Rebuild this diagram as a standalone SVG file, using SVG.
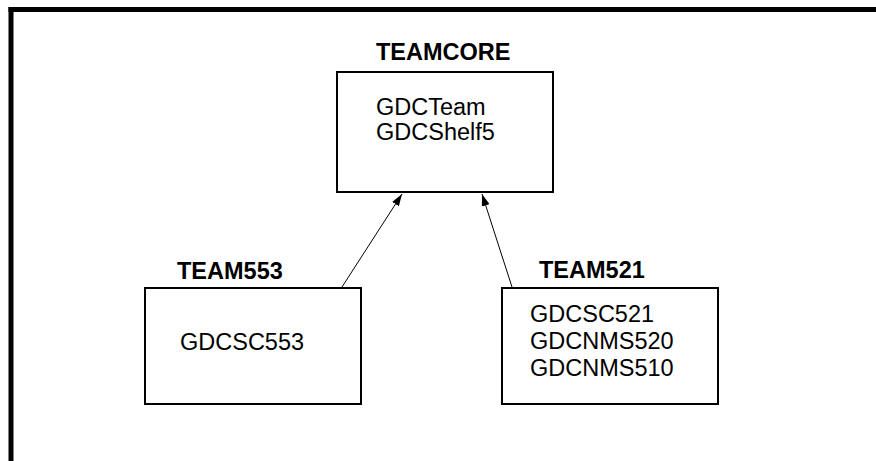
<svg xmlns="http://www.w3.org/2000/svg" width="876" height="461" viewBox="0 0 876 461">
<style>
.box{fill:#fff;stroke:#000;stroke-width:2}
.t{font-family:"Liberation Sans",Arial,sans-serif;font-size:23.5px;fill:#000}
.b{font-family:"Liberation Sans",Arial,sans-serif;font-size:23.5px;font-weight:bold;fill:#000}
.c{stroke:#000;stroke-width:1;fill:none}
</style>
<defs>
<marker id="ah" viewBox="0 0 12 8" refX="12" refY="4" markerWidth="12" markerHeight="8" markerUnits="userSpaceOnUse" orient="auto">
<path d="M0,0 L12,4 L0,8 Z" fill="#000"/>
</marker>
</defs>
<rect width="876" height="461" fill="#fff"/>
<g id="frame">
<rect x="8.5" y="7" width="867.5" height="5" fill="#000"/>
<rect x="8.5" y="7" width="5" height="454" fill="#000"/>
</g>
<g id="connectors">
<line class="c" x1="342" y1="287" x2="402" y2="194" marker-end="url(#ah)"/>
<line class="c" x1="512" y1="287" x2="482" y2="194" marker-end="url(#ah)"/>
</g>
<g id="teamcore">
<text class="b" x="376" y="60">TEAMCORE</text>
<rect class="box" x="337" y="72" width="216" height="120"/>
<text class="t" x="376" y="115">GDCTeam</text>
<text class="t" x="376" y="140">GDCShelf5</text>
</g>
<g id="team553">
<text class="b" x="177" y="279">TEAM553</text>
<rect class="box" x="145" y="288" width="216" height="116"/>
<text class="t" x="180" y="350">GDCSC553</text>
</g>
<g id="team521">
<text class="b" x="539" y="278">TEAM521</text>
<rect class="box" x="502" y="288" width="216" height="116"/>
<text class="t" x="530" y="322">GDCSC521</text>
<text class="t" x="530" y="349">GDCNMS520</text>
<text class="t" x="530" y="376">GDCNMS510</text>
</g>
</svg>
